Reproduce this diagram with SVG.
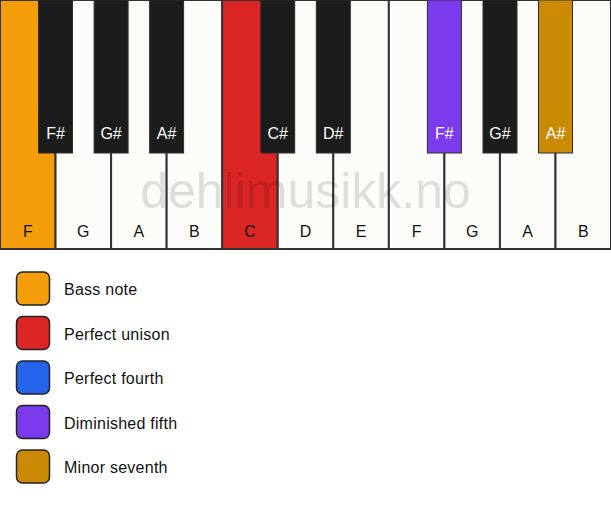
<svg xmlns="http://www.w3.org/2000/svg" width="611" height="506" viewBox="0 0 611 506">
<style>
.w{fill:#fdfcf9;stroke:#333;stroke-width:2}
.b{fill:#1c1c1c;stroke:#2e2e2e;stroke-width:1}
.wl{font-family:"Liberation Sans",Arial,sans-serif;font-size:16px;fill:#111;text-anchor:middle}
.bl{font-family:"Liberation Sans",Arial,sans-serif;font-size:16px;fill:#fff;text-anchor:middle}
.sw{stroke:#222;stroke-width:1.5}
.lt{font-family:"Liberation Sans",Arial,sans-serif;font-size:16px;letter-spacing:0.25px;fill:#111}
.wm{font-family:"Liberation Sans",Arial,sans-serif;font-size:50px;fill:#000;fill-opacity:0.12;text-anchor:middle}
</style>
<rect width="611" height="506" fill="#fff"/>
<g id="white-keys">
<g id="key-F1"><rect class="w" x="0" y="0" width="55.55" height="249" style="fill:#f59e0b"/><text class="wl" x="27.8" y="237">F</text></g>
<g id="key-G1"><rect class="w" x="55.55" y="0" width="55.55" height="249"/><text class="wl" x="83.3" y="237">G</text></g>
<g id="key-A1"><rect class="w" x="111.1" y="0" width="55.55" height="249"/><text class="wl" x="138.9" y="237">A</text></g>
<g id="key-B1"><rect class="w" x="166.65" y="0" width="55.55" height="249"/><text class="wl" x="194.4" y="237">B</text></g>
<g id="key-C"><rect class="w" x="222.2" y="0" width="55.55" height="249" style="fill:#dc2626"/><text class="wl" x="250" y="237">C</text></g>
<g id="key-D"><rect class="w" x="277.75" y="0" width="55.55" height="249"/><text class="wl" x="305.5" y="237">D</text></g>
<g id="key-E"><rect class="w" x="333.3" y="0" width="55.55" height="249"/><text class="wl" x="361.1" y="237">E</text></g>
<g id="key-F2"><rect class="w" x="388.85" y="0" width="55.55" height="249"/><text class="wl" x="416.6" y="237">F</text></g>
<g id="key-G2"><rect class="w" x="444.4" y="0" width="55.55" height="249"/><text class="wl" x="472.2" y="237">G</text></g>
<g id="key-A2"><rect class="w" x="499.95" y="0" width="55.55" height="249"/><text class="wl" x="527.7" y="237">A</text></g>
<g id="key-B2"><rect class="w" x="555.5" y="0" width="55.5" height="249"/><text class="wl" x="583.3" y="237">B</text></g>
</g>
<g id="black-keys">
<g id="key-Fs1"><rect class="b" x="38.5" y="0" width="34" height="153"/><text class="bl" x="55.5" y="139">F#</text></g>
<g id="key-Gs1"><rect class="b" x="94.1" y="0" width="34" height="153"/><text class="bl" x="111.1" y="139">G#</text></g>
<g id="key-As1"><rect class="b" x="149.6" y="0" width="34" height="153"/><text class="bl" x="166.6" y="139">A#</text></g>
<g id="key-Cs"><rect class="b" x="260.7" y="0" width="34" height="153"/><text class="bl" x="277.7" y="139">C#</text></g>
<g id="key-Ds"><rect class="b" x="316.3" y="0" width="34" height="153"/><text class="bl" x="333.3" y="139">D#</text></g>
<g id="key-Fs2"><rect class="b" x="427.4" y="0" width="34" height="153" style="fill:#7c3aed"/><text class="bl" x="444.4" y="139">F#</text></g>
<g id="key-Gs2"><rect class="b" x="483" y="0" width="34" height="153"/><text class="bl" x="500" y="139">G#</text></g>
<g id="key-As2"><rect class="b" x="538.5" y="0" width="34" height="153" style="fill:#ca8a04"/><text class="bl" x="555.5" y="139">A#</text></g>
</g>
<text class="wm" x="305.5" y="208">dehlimusikk.no</text>
<g id="legend">
<g id="legend-bass"><rect class="sw" x="16.5" y="272" width="33" height="33" rx="6" fill="#f59e0b"/><text class="lt" x="64" y="295">Bass note</text></g>
<g id="legend-unison"><rect class="sw" x="16.5" y="316.5" width="33" height="33" rx="6" fill="#dc2626"/><text class="lt" x="64" y="339.5">Perfect unison</text></g>
<g id="legend-fourth"><rect class="sw" x="16.5" y="361" width="33" height="33" rx="6" fill="#2563eb"/><text class="lt" x="64" y="384">Perfect fourth</text></g>
<g id="legend-dim5"><rect class="sw" x="16.5" y="405.5" width="33" height="33" rx="6" fill="#7c3aed"/><text class="lt" x="64" y="428.5">Diminished fifth</text></g>
<g id="legend-min7"><rect class="sw" x="16.5" y="450" width="33" height="33" rx="6" fill="#ca8a04"/><text class="lt" x="64" y="473">Minor seventh</text></g>
</g>
</svg>
